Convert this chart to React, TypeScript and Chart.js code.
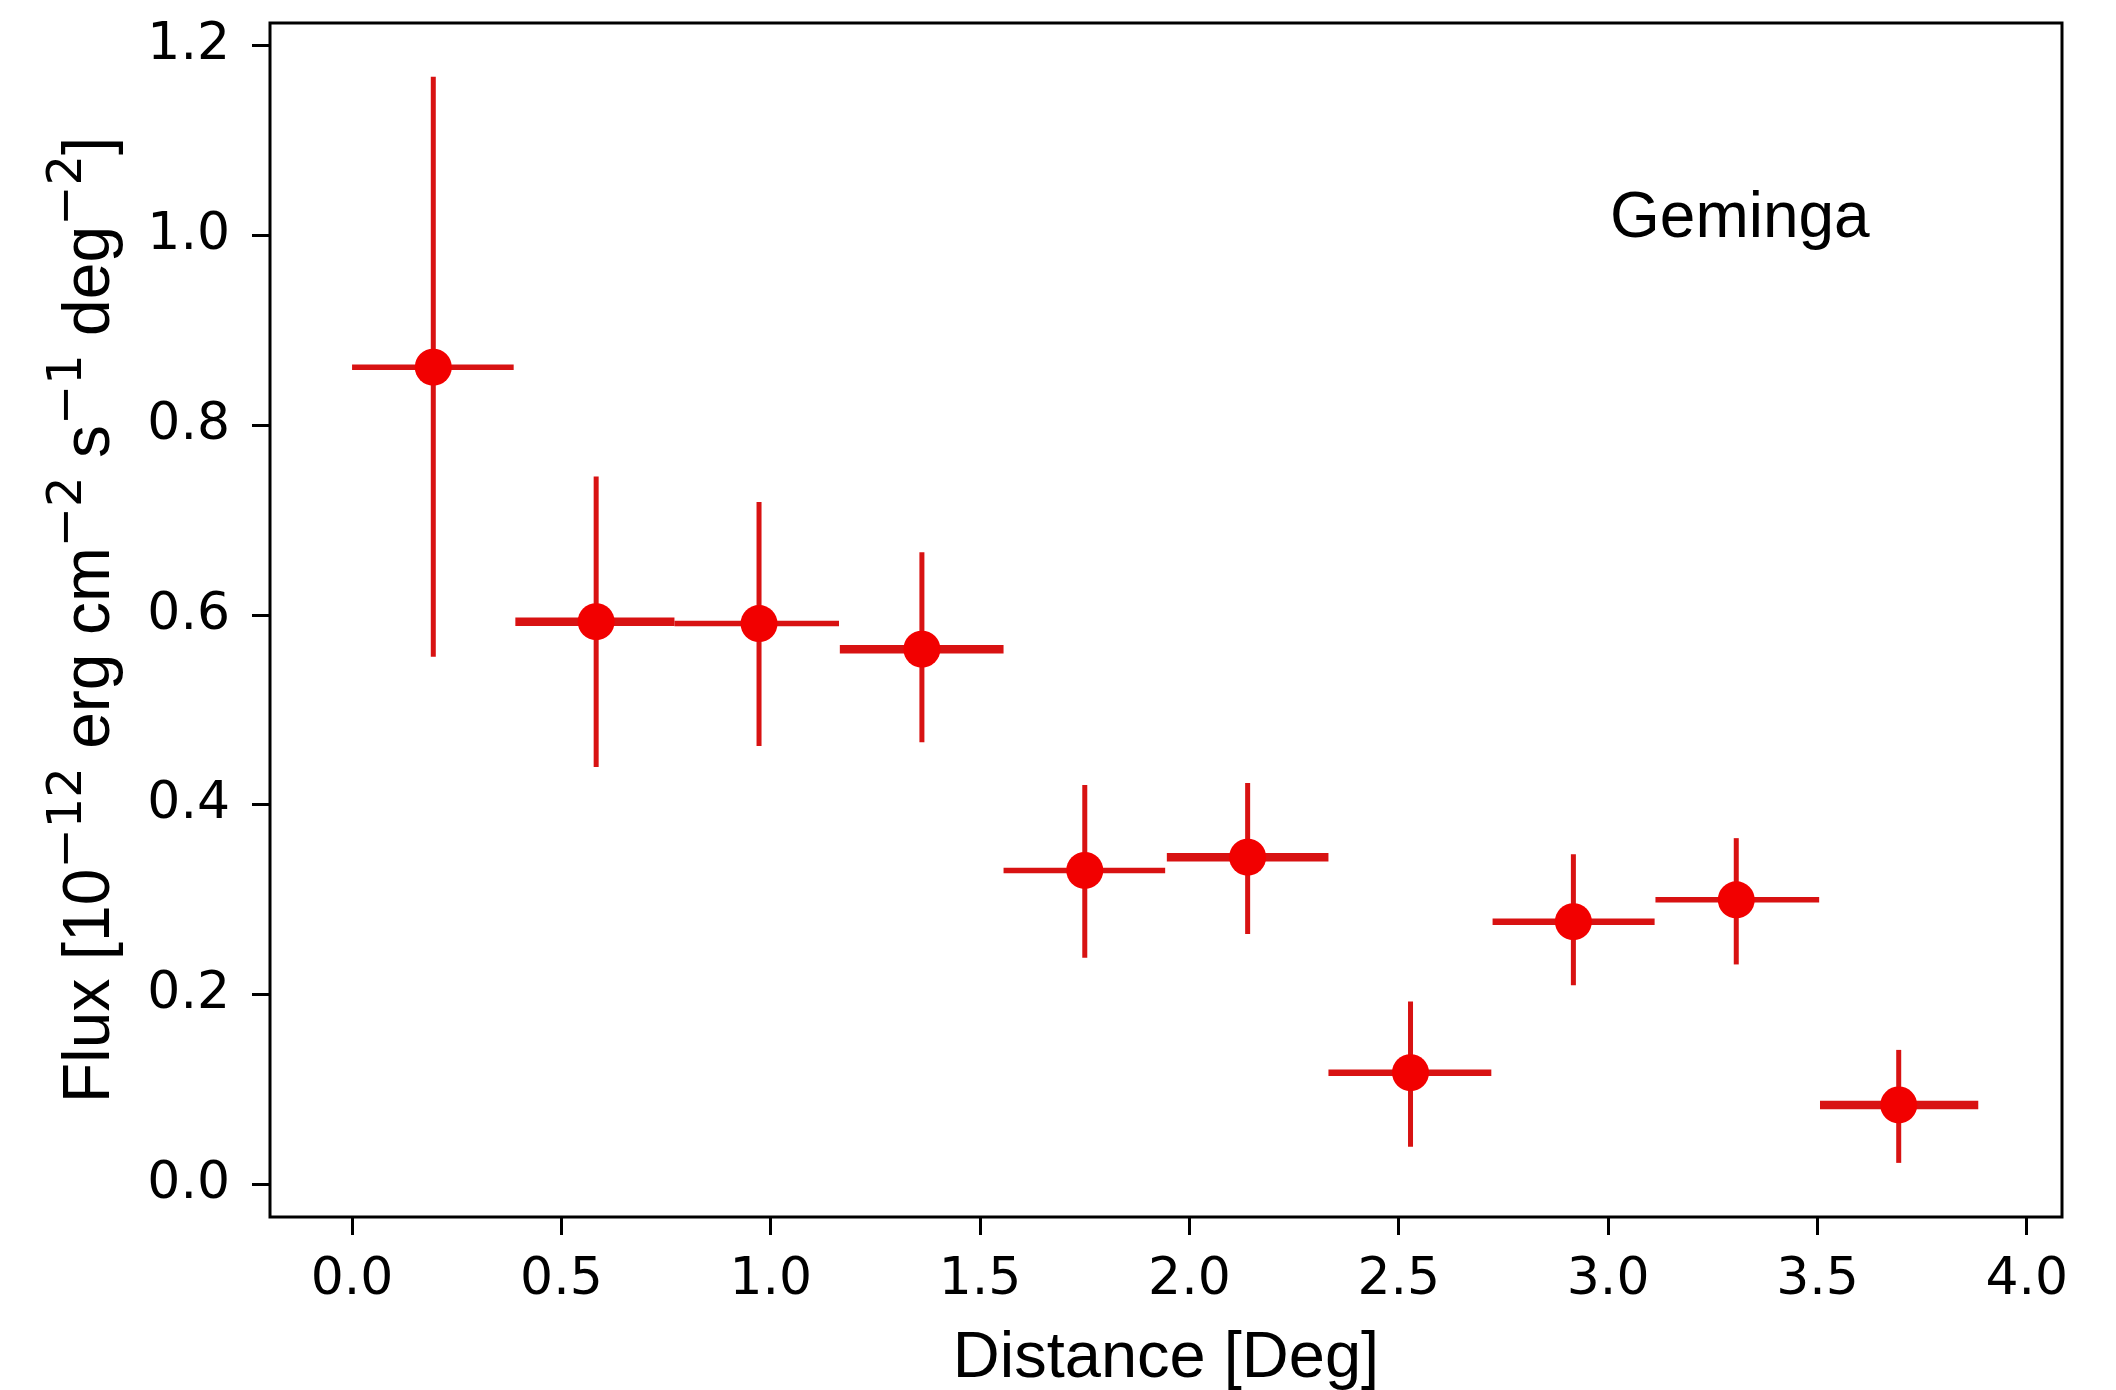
import React, { useEffect, useRef } from "react";
import { Chart, registerables } from "chart.js";

Chart.register(...registerables);

// ---- data ----
const BIN_CENTERS = [0.194, 0.583, 0.972, 1.361, 1.75, 2.139, 2.528, 2.917, 3.306, 3.694];
const BIN_LOW = [0.0, 0.39, 0.77, 1.165, 1.556, 1.946, 2.332, 2.724, 3.113, 3.506];
const BIN_HIGH = [0.386, 0.77, 1.163, 1.556, 1.942, 2.332, 2.721, 3.111, 3.504, 3.884];
const FLUX = [0.861, 0.593, 0.591, 0.564, 0.331, 0.345, 0.118, 0.277, 0.3, 0.084];
const FLUX_HIGH = [1.167, 0.746, 0.719, 0.666, 0.421, 0.423, 0.193, 0.348, 0.365, 0.142];
const FLUX_LOW = [0.556, 0.44, 0.462, 0.466, 0.239, 0.264, 0.04, 0.21, 0.232, 0.023];

const X_TICKS = [0.0, 0.5, 1.0, 1.5, 2.0, 2.5, 3.0, 3.5, 4.0];
const Y_TICKS = [0.0, 0.2, 0.4, 0.6, 0.8, 1.0, 1.2];
const X_LIMITS = [-0.196, 4.084];
const Y_LIMITS = [-0.034, 1.2235];

const X_TITLE = "Distance [Deg]";
const Y_TITLE_PARTS: { t: string; sup: boolean }[] = [
  { t: "Flux [10", sup: false },
  { t: "\u221212", sup: true },
  { t: " erg cm", sup: false },
  { t: "\u22122", sup: true },
  { t: " s", sup: false },
  { t: "\u22121", sup: true },
  { t: " deg", sup: false },
  { t: "\u22122", sup: true },
  { t: "]", sup: false },
];
const ANNOTATION = "Geminga";

// ---- styles ----
const H_BAR_WIDTHS = [5.5, 8.5, 5.5, 8.5, 5.5, 8.5, 6.5, 6.5, 5.5, 8.5];
const BAR_COLOR = "#d81212";
const MARKER_COLOR = "#f20000";
const TITLE_FONT = "'Liberation Sans', Arial, sans-serif";
const TICK_FONT = "'DejaVu Sans', sans-serif";

const W = 2116;
const H = 1390;

export default function App() {
  const ref = useRef<HTMLCanvasElement | null>(null);

  useEffect(() => {
    document.body.style.margin = "0";
    const canvas = ref.current;
    if (!canvas) return;

    const errorBars = {
      id: "errorBars",
      beforeDatasetsDraw(chart: any) {
        const { ctx, scales } = chart;
        const xs = scales.x;
        const ys = scales.y;
        ctx.save();
        ctx.strokeStyle = BAR_COLOR;
        ctx.lineCap = "butt";
        for (let i = 0; i < FLUX.length; i++) {
          const cx = xs.getPixelForValue(BIN_CENTERS[i]);
          const cy = ys.getPixelForValue(FLUX[i]);
          ctx.lineWidth = 5;
          ctx.beginPath();
          ctx.moveTo(cx, ys.getPixelForValue(FLUX_LOW[i]));
          ctx.lineTo(cx, ys.getPixelForValue(FLUX_HIGH[i]));
          ctx.stroke();
          ctx.lineWidth = H_BAR_WIDTHS[i];
          ctx.beginPath();
          ctx.moveTo(xs.getPixelForValue(BIN_LOW[i]), cy);
          ctx.lineTo(xs.getPixelForValue(BIN_HIGH[i]), cy);
          ctx.stroke();
        }
        ctx.restore();
      },
    };

    const decorations = {
      id: "decorations",
      afterDraw(chart: any) {
        const { ctx, chartArea } = chart;
        ctx.save();
        ctx.strokeStyle = "#000";
        ctx.lineWidth = 3;
        ctx.strokeRect(
          chartArea.left,
          chartArea.top,
          chartArea.right - chartArea.left,
          chartArea.bottom - chartArea.top
        );
        ctx.fillStyle = "#000";
        ctx.font = `64px ${TITLE_FONT}`;
        ctx.textAlign = "left";
        ctx.textBaseline = "alphabetic";
        ctx.fillText(ANNOTATION, 1610, 237);
        ctx.font = `65px ${TITLE_FONT}`;
        ctx.textAlign = "center";
        ctx.fillText(X_TITLE, (chartArea.left + chartArea.right) / 2, 1377);
        const baseFont = `66px ${TITLE_FONT}`;
        const supFont = `48px ${TICK_FONT}`;
        let total = 0;
        const widths: number[] = [];
        for (const p of Y_TITLE_PARTS) {
          ctx.font = p.sup ? supFont : baseFont;
          const w = ctx.measureText(p.t).width;
          widths.push(w);
          total += w;
        }
        ctx.translate(109, (chartArea.top + chartArea.bottom) / 2);
        ctx.rotate(-Math.PI / 2);
        ctx.textAlign = "left";
        let x = -total / 2;
        Y_TITLE_PARTS.forEach((p, i) => {
          ctx.font = p.sup ? supFont : baseFont;
          ctx.fillText(p.t, x, p.sup ? -28 : 0);
          x += widths[i];
        });
        ctx.restore();
      },
    };

    const chart = new Chart(canvas, {
      type: "scatter",
      data: {
        datasets: [
          {
            data: BIN_CENTERS.map((x, i) => ({ x, y: FLUX[i] })),
            backgroundColor: MARKER_COLOR,
            borderWidth: 0,
            pointRadius: 18.5,
            pointHoverRadius: 18.5,
          },
        ],
      },
      options: {
        animation: false,
        responsive: false,
        devicePixelRatio: 1,
        events: [],
        layout: { padding: { top: 23, right: 54, bottom: 0, left: 0 } },
        plugins: {
          legend: { display: false },
          tooltip: { enabled: false },
          title: { display: false },
        },
        scales: {
          x: {
            type: "linear",
            position: "bottom",
            min: X_LIMITS[0],
            max: X_LIMITS[1],
            afterBuildTicks: (scale: any) => {
              scale.ticks = X_TICKS.map((v) => ({ value: v }));
            },
            afterFit: (scale: any) => {
              scale.height = H - 1217;
              scale.paddingLeft = 0;
              scale.paddingRight = 0;
            },
            border: { display: false },
            grid: {
              display: true,
              drawOnChartArea: false,
              drawTicks: true,
              tickLength: 18,
              tickWidth: 3,
              tickColor: "#000",
            },
            ticks: {
              color: "#000",
              padding: 14,
              maxRotation: 0,
              autoSkip: false,
              font: { family: TICK_FONT, size: 52 },
              callback: (v: any) => Number(v).toFixed(1),
            },
          },
          y: {
            type: "linear",
            position: "left",
            min: Y_LIMITS[0],
            max: Y_LIMITS[1],
            afterBuildTicks: (scale: any) => {
              scale.ticks = Y_TICKS.map((v) => ({ value: v }));
            },
            afterFit: (scale: any) => {
              scale.width = 270;
              scale.paddingTop = 0;
              scale.paddingBottom = 0;
            },
            border: { display: false },
            grid: {
              display: true,
              drawOnChartArea: false,
              drawTicks: true,
              tickLength: 18,
              tickWidth: 3,
              tickColor: "#000",
            },
            ticks: {
              color: "#000",
              padding: 22,
              autoSkip: false,
              font: { family: TICK_FONT, size: 52 },
              callback: (v: any) => Number(v).toFixed(1),
            },
          },
        },
      },
      plugins: [errorBars, decorations],
    } as any);

    return () => chart.destroy();
  }, []);

  return (
    <div style={{ width: W, height: H, overflow: "hidden", background: "#fff" }}>
      <canvas ref={ref} width={W} height={H} style={{ display: "block", width: W, height: H }} />
    </div>
  );
}
